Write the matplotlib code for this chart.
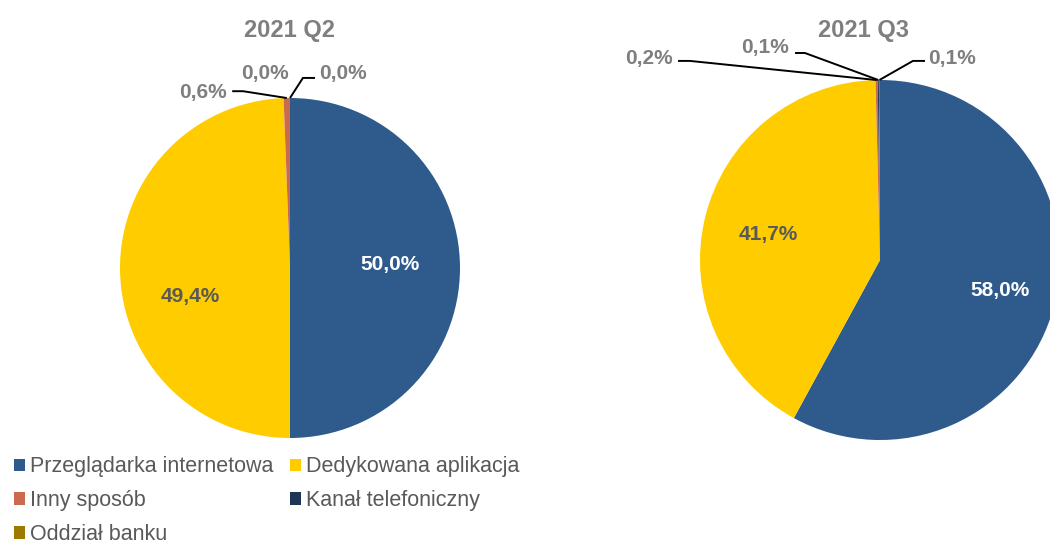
import matplotlib
matplotlib.use("Agg")
import numpy as np
import matplotlib.pyplot as plt
from matplotlib.patches import Patch

plt.rcParams['font.family'] = ['Liberation Sans', 'DejaVu Sans']

categories = ['Przeglądarka internetowa', 'Dedykowana aplikacja', 'Inny sposób',
              'Kanał telefoniczny', 'Oddział banku']
colors = ['#2E5A8C', '#FFCC00', '#CC6A4E', '#1F3556', '#9C7A00']
q2_values = [50.0, 49.4, 0.6, 0.0, 0.0]
q3_values = [58.0, 41.7, 0.2, 0.1, 0.1]
titles = ['2021 Q2', '2021 Q3']

GRAY = '#7F7F7F'
DARK = '#595959'


def fmt(v):
    return f"{v:.1f}".replace('.', ',') + '%'


def anchor(values, i):
    # point on the rim, at the middle of wedge i (start at 12 o'clock, clockwise)
    tot = sum(values)
    start = sum(values[:i]) / tot * 360
    mid = 90 - (start + values[i] / tot * 360 / 2)
    return np.cos(np.radians(mid)), np.sin(np.radians(mid))


fig = plt.figure(figsize=(10.5, 5.44), dpi=100)
W, H = 1050, 544

# pie axes placed by pixel centre and radius
ax1 = fig.add_axes([(290 - 170) / W, 1 - (268 + 170) / H, 340 / W, 340 / H])
ax2 = fig.add_axes([(880 - 180) / W, 1 - (260 + 180) / H, 360 / W, 360 / H])

for ax, vals in ((ax1, q2_values), (ax2, q3_values)):
    ax.pie(vals, colors=colors, startangle=90, counterclock=False, radius=1,
           wedgeprops=dict(linewidth=0))
    ax.set_xlim(-1, 1)
    ax.set_ylim(-1, 1)
    ax.set_aspect('equal')
    ax.axis('off')

# titles
fig.text(290 / W, 1 - 30 / H, titles[0], ha='center', va='center',
         fontsize=17, fontweight='bold', color=GRAY)
fig.text(863 / W, 1 - 30 / H, titles[1], ha='center', va='center',
         fontsize=17, fontweight='bold', color=GRAY)

lab = dict(fontsize=15, fontweight='bold')

# inner labels
ax1.text(0.588, 0.018, fmt(q2_values[0]), color='white', ha='center', va='center', **lab)
ax1.text(-0.588, -0.165, fmt(q2_values[1]), color=DARK, ha='center', va='center', **lab)
ax2.text(0.667, -0.167, fmt(q3_values[0]), color='white', ha='center', va='center', **lab)
ax2.text(-0.622, 0.144, fmt(q3_values[1]), color=DARK, ha='center', va='center', **lab)


def leader(ax, values, i, elbow, end, text_xy, ha):
    ax0 = anchor(values, i)
    if elbow is not None:
        ax.plot([ax0[0], elbow[0], end[0]], [ax0[1], elbow[1], end[1]],
                color='black', lw=1.4, clip_on=False, solid_capstyle='butt')
    ax.text(text_xy[0], text_xy[1], fmt(values[i]), color=GRAY, ha=ha,
            va='center', clip_on=False, **lab)


# Q2 outside labels
leader(ax1, q2_values, 2, (-0.276, 1.04), (-0.34, 1.04), (-0.37, 1.035), 'right')
leader(ax1, q2_values, 3, None, None, (-0.147, 1.147), 'center')
leader(ax1, q2_values, 4, (0.076, 1.118), (0.147, 1.118), (0.17, 1.147), 'left')

# Q3 outside labels
leader(ax2, q3_values, 2, (-1.056, 1.106), (-1.122, 1.106), (-1.15, 1.122), 'right')
leader(ax2, q3_values, 3, (-0.417, 1.15), (-0.472, 1.15), (-0.505, 1.178), 'right')
leader(ax2, q3_values, 4, (0.183, 1.106), (0.25, 1.106), (0.265, 1.122), 'left')

# legend: column-first fill gives the reference layout
order = [0, 2, 4, 1, 3]
handles = [Patch(facecolor=colors[i], edgecolor='none') for i in order]
labels = [categories[i] for i in order]
leg = fig.legend(handles, labels, ncol=2, loc='upper left',
                 bbox_to_anchor=(10 / W, 1 - 452 / H), frameon=False,
                 fontsize=15.5, handlelength=0.5, handleheight=0.5,
                 handletextpad=0.25, columnspacing=0.75, labelspacing=0.6,
                 borderpad=0.2, borderaxespad=0)
for t in leg.get_texts():
    t.set_color(DARK)

fig.savefig('out.png', dpi=100)
